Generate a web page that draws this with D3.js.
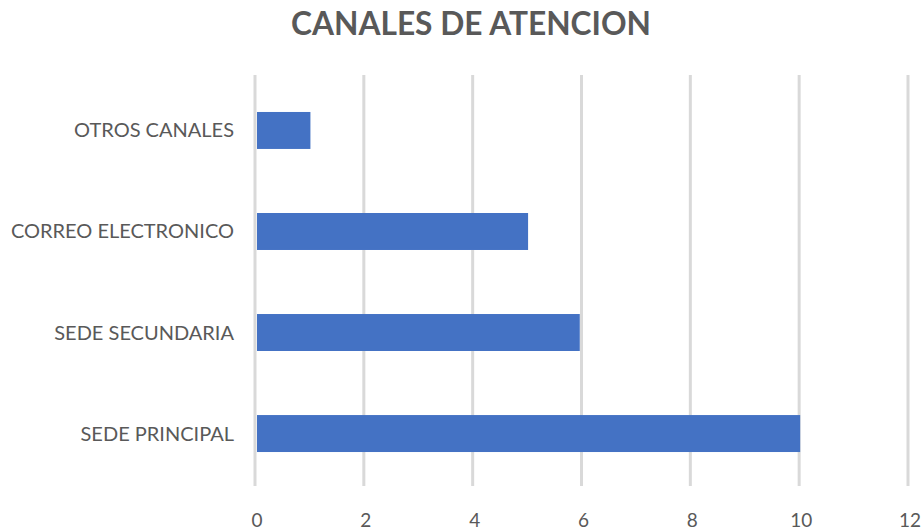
<!DOCTYPE html>
<html><head><meta charset="utf-8">
<script src="https://cdn.jsdelivr.net/npm/d3@7"></script>
<style>body{margin:0;background:#fff;}svg{display:block;font-family:Lato,"Open Sans",sans-serif;}</style>
</head><body>
<svg id="c" width="923" height="531"></svg>
<script>
const categories = ["OTROS CANALES","CORREO ELECTRONICO","SEDE SECUNDARIA","SEDE PRINCIPAL"];
const values = [1,5,5.95,10];
const ticks = [0,2,4,6,8,10,12];
const title = "CANALES DE ATENCION";

const svg = d3.select("#c");
const x = d3.scaleLinear().domain([0,12]).range([255,908]);
const y = d3.scaleBand().domain(categories).range([75,489]).paddingInner(0.634).paddingOuter(0.366);

svg.append("text").attr("x",471).attr("y",35).attr("text-anchor","middle")
  .attr("font-size",31.7).attr("font-weight","bold").attr("fill","#595959").text(title);

svg.append("g").selectAll("line").data(ticks).join("line")
  .attr("x1",d=>x(d)).attr("x2",d=>x(d)).attr("y1",75).attr("y2",486)
  .attr("stroke","#d9d9d9").attr("stroke-width",3);

svg.append("g").selectAll("rect").data(values).join("rect")
  .attr("x",x(0)+2).attr("y",(d,i)=>y(categories[i]))
  .attr("width",d=>x(d)-x(0)-1).attr("height",y.bandwidth())
  .attr("fill","#4472C4");

svg.append("g").selectAll("text").data(categories).join("text")
  .attr("x",234).attr("y",d=>y(d)+y.bandwidth()/2).attr("dy","0.35em")
  .attr("text-anchor","end").attr("font-size",20).attr("fill","#595959").text(d=>d);

svg.append("g").selectAll("text").data(ticks).join("text")
  .attr("x",d=>x(d)+2).attr("y",527).attr("text-anchor","middle")
  .attr("font-size",19).attr("fill","#595959").text(d=>d);
</script>
</body></html>
